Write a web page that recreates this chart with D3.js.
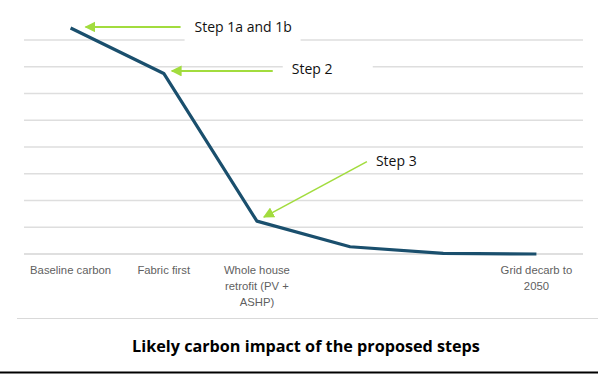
<!DOCTYPE html>
<html>
<head>
<meta charset="utf-8">
<script src="https://cdn.jsdelivr.net/npm/d3@7"></script>
<style>
  body { margin: 0; background: #fff; }
  svg { display: block; }
</style>
</head>
<body>
<svg id="chart" width="598" height="374"></svg>
<script>
// chart data
var categories = ["Baseline carbon", "Fabric first", "Whole house retrofit (PV + ASHP)", "", "", "Grid decarb to 2050"];
var carbon = [8.45, 6.75, 1.23, 0.27, 0.02, 0];
var yTicks = [0, 1, 2, 3, 4, 5, 6, 7, 8];
var stepLabels = ["Step 1a and 1b", "Step 2", "Step 3"];
var stepIndex = [0, 1, 2];
var title = "Likely carbon impact of the proposed steps";

var width = 598, height = 374;
var margin = {top: 40, left: 24, bottom: 120, right: 15};
var innerW = width - margin.left - margin.right;
var innerH = height - margin.top - margin.bottom;

var svg = d3.select("#chart");
var g = svg.append("g")
  .attr("transform", "translate(" + margin.left + "," + margin.top + ")");

var xScale = d3.scaleBand().domain(d3.range(categories.length)).range([0, innerW]);
var yScale = d3.scaleLinear().domain([0, 8]).range([innerH, 0]);
var cx = function(i) { return xScale(i) + xScale.bandwidth() / 2; };

// gridlines
g.append("g")
  .selectAll("line")
  .data(yTicks)
  .join("line")
    .attr("x1", 0).attr("x2", innerW)
    .attr("y1", function(d) { return yScale(d); })
    .attr("y2", function(d) { return yScale(d); })
    .attr("stroke", function(d) { return d === 0 ? "#d4d4d4" : "#dedede"; })
    .attr("stroke-width", 1.3);

// category labels, wrapped to the band width
var xAxis = g.append("g")
  .attr("transform", "translate(0," + innerH + ")")
  .call(d3.axisBottom(xScale).tickSize(0).tickPadding(0).tickFormat(function(i) { return categories[i]; }));
xAxis.select(".domain").remove();
xAxis.selectAll("text")
  .attr("fill", "#5f5f5f")
  .style("font-family", "'Liberation Sans', Arial, sans-serif")
  .style("font-size", "11.3px")
  .attr("y", 20)
  .attr("dy", 0)
  .each(function() { wrap(d3.select(this), xScale.bandwidth() - 6); });

function wrap(text, w) {
  var words = text.text().split(/\s+/).filter(Boolean);
  text.text(null);
  var line = [], lineNo = 0;
  var tspan = text.append("tspan").attr("x", 0).attr("y", 20);
  words.forEach(function(word) {
    line.push(word);
    tspan.text(line.join(" "));
    if (tspan.node().getComputedTextLength() > w && line.length > 1) {
      line.pop();
      tspan.text(line.join(" "));
      line = [word];
      lineNo++;
      tspan = text.append("tspan").attr("x", 0).attr("y", 20 + lineNo * 16).text(word);
    }
  });
}

// carbon line
var line = d3.line()
  .x(function(d, i) { return cx(i); })
  .y(function(d) { return yScale(d); });

g.append("path")
  .datum(carbon)
  .attr("fill", "none")
  .attr("stroke", "#1a4f6d")
  .attr("stroke-width", 3.2)
  .attr("stroke-linejoin", "round")
  .attr("d", line);

// annotations: offsets from the data point (tip, tail, text)
var annoOffsets = [
  {tip: [15, -1], tail: [110, -1], text: [124, -1], box: [114, -14, 116, 28]},
  {tip: [8, -2.5], tail: [109, -2.5], text: [128, -4], box: [119, -18, 90, 28]},
  {tip: [7, -4], tail: [110, -59.5], text: [119, -60], box: [113, -72, 60, 24]}
];
var green = "#a2dc3e";

svg.append("defs").append("marker")
  .attr("id", "head")
  .attr("markerUnits", "userSpaceOnUse")
  .attr("viewBox", "0 0 10 10")
  .attr("refX", 9).attr("refY", 5)
  .attr("markerWidth", 11).attr("markerHeight", 11)
  .attr("orient", "auto")
  .append("path")
    .attr("d", "M0,0L10,5L0,10Z")
    .attr("fill", green);

var anno = g.append("g").selectAll("g")
  .data(stepLabels)
  .join("g")
    .attr("transform", function(d, k) {
      var i = stepIndex[k];
      return "translate(" + cx(i) + "," + yScale(carbon[i]) + ")";
    });

anno.append("rect")
  .attr("x", function(d, k) { return annoOffsets[k].box[0]; })
  .attr("y", function(d, k) { return annoOffsets[k].box[1]; })
  .attr("width", function(d, k) { return annoOffsets[k].box[2]; })
  .attr("height", function(d, k) { return annoOffsets[k].box[3]; })
  .attr("fill", "#fff");

anno.append("line")
  .attr("x1", function(d, k) { return annoOffsets[k].tail[0]; })
  .attr("y1", function(d, k) { return annoOffsets[k].tail[1]; })
  .attr("x2", function(d, k) { return annoOffsets[k].tip[0]; })
  .attr("y2", function(d, k) { return annoOffsets[k].tip[1]; })
  .attr("stroke", green)
  .attr("stroke-width", function(d, k) { return k === 2 ? 1.6 : 2; })
  .attr("marker-end", "url(#head)");

anno.append("text")
  .attr("x", function(d, k) { return annoOffsets[k].text[0]; })
  .attr("y", function(d, k) { return annoOffsets[k].text[1]; })
  .attr("dy", "0.35em")
  .style("font-family", "'Open Sans', sans-serif")
  .style("font-size", "14px")
  .attr("fill", "#111")
  .text(function(d) { return d; });

// frame lines and title
svg.append("line")
  .attr("x1", 17).attr("x2", width)
  .attr("y1", 318.5).attr("y2", 318.5)
  .attr("stroke", "#d9d9d9").attr("stroke-width", 1.2);

svg.append("text")
  .attr("x", 306).attr("y", 351.5)
  .attr("text-anchor", "middle")
  .style("font-family", "'Open Sans', sans-serif")
  .style("font-size", "16.2px")
  .style("font-weight", "bold")
  .attr("fill", "#000")
  .text(title);

svg.append("line")
  .attr("x1", 0).attr("x2", width)
  .attr("y1", 372.5).attr("y2", 372.5)
  .attr("stroke", "#000").attr("stroke-width", 2);
</script>
</body>
</html>
